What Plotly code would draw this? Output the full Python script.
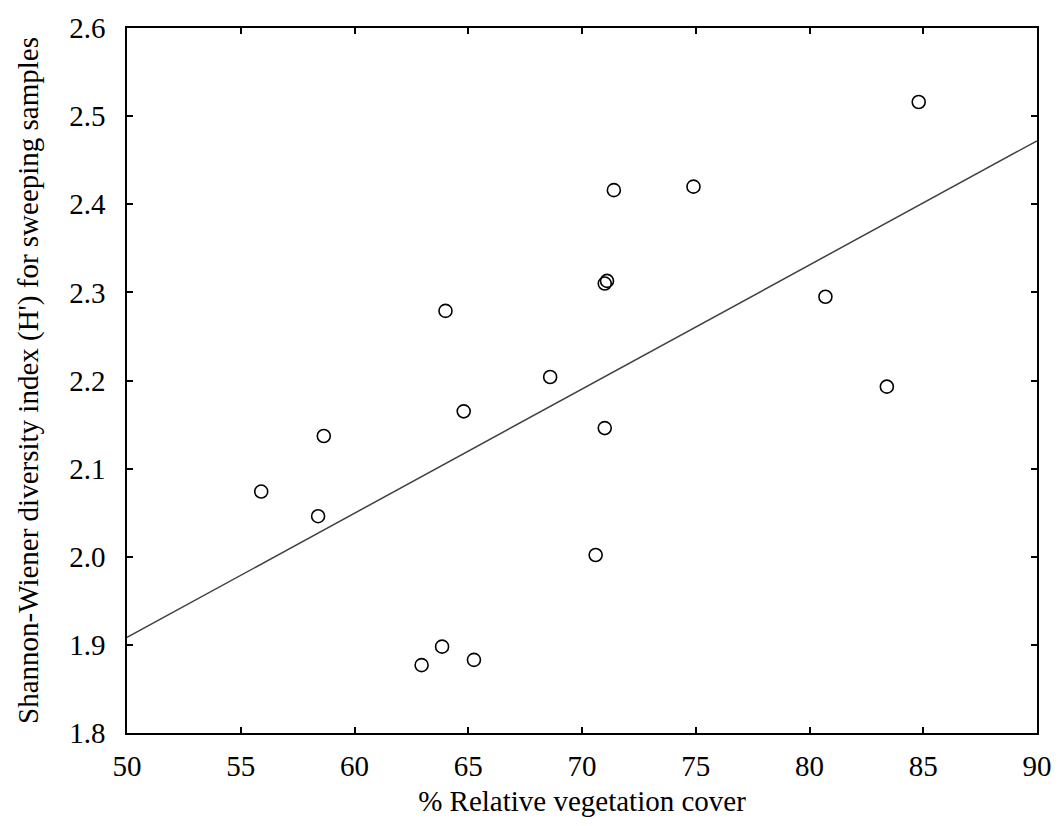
import plotly.graph_objects as go

# Data
veg_cover = [84.8, 74.9, 71.4, 71.1, 71.0, 80.7, 64.0, 68.6, 83.4, 64.8,
             71.0, 58.65, 55.9, 58.4, 70.6, 63.85, 65.25, 62.95]
shannon_h = [2.516, 2.420, 2.416, 2.313, 2.310, 2.295, 2.279, 2.204, 2.193, 2.165,
             2.146, 2.137, 2.074, 2.046, 2.002, 1.898, 1.883, 1.877]

fit_x = [50, 90]
fit_y = [1.9085, 2.472]

x_ticks = [50, 55, 60, 65, 70, 75, 80, 85, 90]
y_ticks = [1.8, 1.9, 2.0, 2.1, 2.2, 2.3, 2.4, 2.5, 2.6]
y_tick_text = ["1.8", "1.9", "2.0", "2.1", "2.2", "2.3", "2.4", "2.5", "2.6"]

FONT = "Liberation Serif"

fig = go.Figure()
fig.add_trace(go.Scatter(
    x=fit_x, y=fit_y, mode="lines",
    line=dict(color="#404040", width=1.5),
    hoverinfo="skip", showlegend=False,
))
fig.add_trace(go.Scatter(
    x=veg_cover, y=shannon_h, mode="markers",
    marker=dict(symbol="circle-open", size=13, color="black", line=dict(width=1.6, color="black")),
    showlegend=False,
))

axis_common = dict(
    showgrid=False, zeroline=False, showline=True, linecolor="black", linewidth=1.5,
    mirror="ticks", ticks="inside", ticklen=6, tickwidth=1.5, tickcolor="black",
    tickfont=dict(family=FONT, size=29, color="black"),
)

fig.update_layout(
    width=1064, height=826,
    margin=dict(l=127, r=18, t=23, b=93),
    paper_bgcolor="white", plot_bgcolor="white",
    font=dict(family=FONT, color="black"),
    xaxis=dict(
        range=[50, 90], tickvals=x_ticks, ticklabelstandoff=6,
        title=dict(text="% Relative vegetation cover", font=dict(family=FONT, size=29), standoff=10),
        **axis_common,
    ),
    yaxis=dict(
        range=[1.8, 2.6], tickvals=y_ticks, ticktext=y_tick_text, ticklabelstandoff=14,
        title=dict(text="Shannon-Wiener diversity index (H') for sweeping samples",
                   font=dict(family=FONT, size=29), standoff=22),
        **axis_common,
    ),
)

fig.write_html("out.html")
